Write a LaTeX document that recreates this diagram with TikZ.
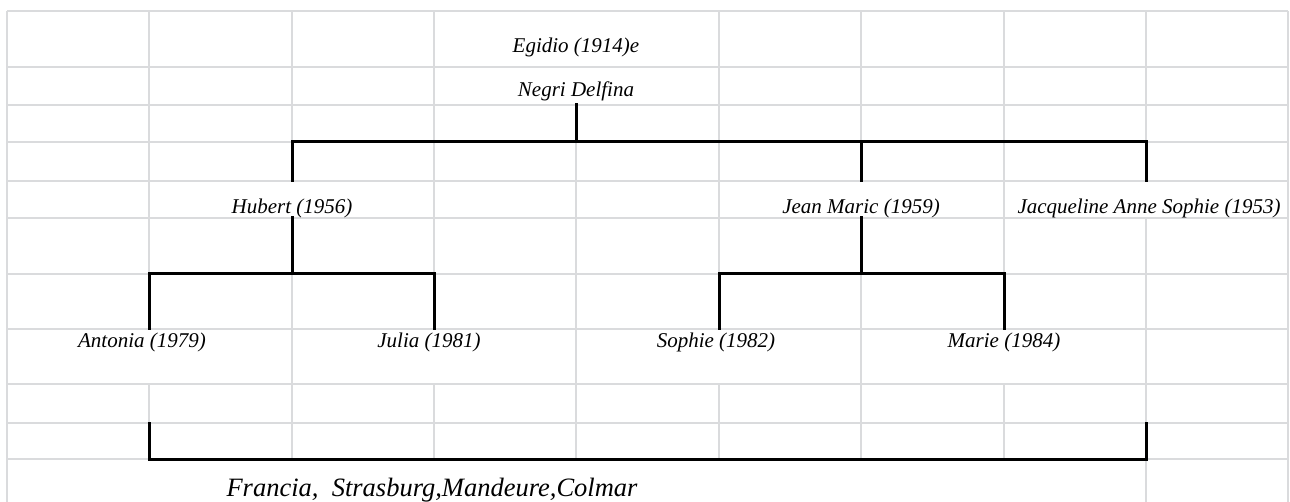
\documentclass[tikz,border=0pt]{standalone}
\usepackage{fontspec}
\setmainfont{Liberation Serif}
\begin{document}
\begin{tikzpicture}[x=1pt,y=-1pt,
  grid/.style={draw=gridgray,line width=2pt},
  tie/.style={draw=black,line width=3pt,line cap=rect},
  person/.style={anchor=base,inner sep=0pt,font=\fontsize{21}{24}\selectfont\itshape},
  place/.style={anchor=base,inner sep=0pt,font=\fontsize{26.5}{32}\selectfont\itshape}]
\definecolor{gridgray}{RGB}{218,219,221}
\useasboundingbox (0,0) rectangle (1290,502);
\fill[white] (0,0) rectangle (1290,502);
% horizontal grid lines
\foreach \y in {11,67,105,142,181,218,274,329,384,423,459}
  \draw[grid] (7,\y) -- (1288,\y);
% vertical grid lines
\draw[grid] (7,11) -- (7,502);
\draw[grid] (1288,11) -- (1288,502);
\foreach \x in {149,434,719,1004}{
  \draw[grid] (\x,11) -- (\x,329);
  \draw[grid] (\x,384) -- (\x,459);}
\foreach \x in {292,861}{
  \draw[grid] (\x,11) -- (\x,181);
  \draw[grid] (\x,218) -- (\x,459);}
\draw[grid] (576,105) -- (576,459);
\draw[grid] (1146,11) -- (1146,181);
\draw[grid] (1146,218) -- (1146,502);
% texts
\node[person] (egidio) at (576,53) {Egidio (1914)e};
\node[person] (negri) at (576,97) {Negri Delfina};
\node[person] (hubert) at (292,214) {Hubert (1956)};
\node[person] (jean) at (861,214) {Jean Maric (1959)};
\node[person] (jacq) at (1149,214) {Jacqueline Anne Sophie (1953)};
\node[person] (antonia) at (142,348) {Antonia (1979)};
\node[person] (julia) at (429,348) {Julia (1981)};
\node[person] (sophie) at (716,348) {Sophie (1982)};
\node[person] (marie) at (1004,348) {Marie (1984)};
\node[place] (francia) at (432,496) {Francia,\ \ Strasburg,Mandeure,Colmar};
% junction coordinates
\coordinate (p0) at (576,105);
\coordinate (p1) at (576,142);
\coordinate (h0) at (292,142);
\coordinate (h1) at (292,181);
\coordinate (j0) at (861,142);
\coordinate (j1) at (861,181);
\coordinate (q0) at (1146,142);
\coordinate (q1) at (1146,181);
\coordinate (h2) at (292,218);
\coordinate (h3) at (292,274);
\coordinate (a0) at (149,274);
\coordinate (a1) at (149,329);
\coordinate (u0) at (434,274);
\coordinate (u1) at (434,329);
\coordinate (j2) at (861,218);
\coordinate (j3) at (861,274);
\coordinate (s0) at (719,274);
\coordinate (s1) at (719,329);
\coordinate (m0) at (1004,274);
\coordinate (m1) at (1004,329);
\coordinate (b0) at (149,423);
\coordinate (b1) at (149,459);
\coordinate (b2) at (1146,459);
\coordinate (b3) at (1146,423);
% family ties
\draw[tie] (p0) -- (p1);
\draw[tie] (h1) -- (h0) -- (q0) -- (q1);
\draw[tie] (j0) -- (j1);
\draw[tie] (h2) -- (h3);
\draw[tie] (a1) -- (a0) -- (u0) -- (u1);
\draw[tie] (j2) -- (j3);
\draw[tie] (s1) -- (s0) -- (m0) -- (m1);
\draw[tie] (b0) -- (b1) -- (b2) -- (b3);
\end{tikzpicture}
\end{document}
